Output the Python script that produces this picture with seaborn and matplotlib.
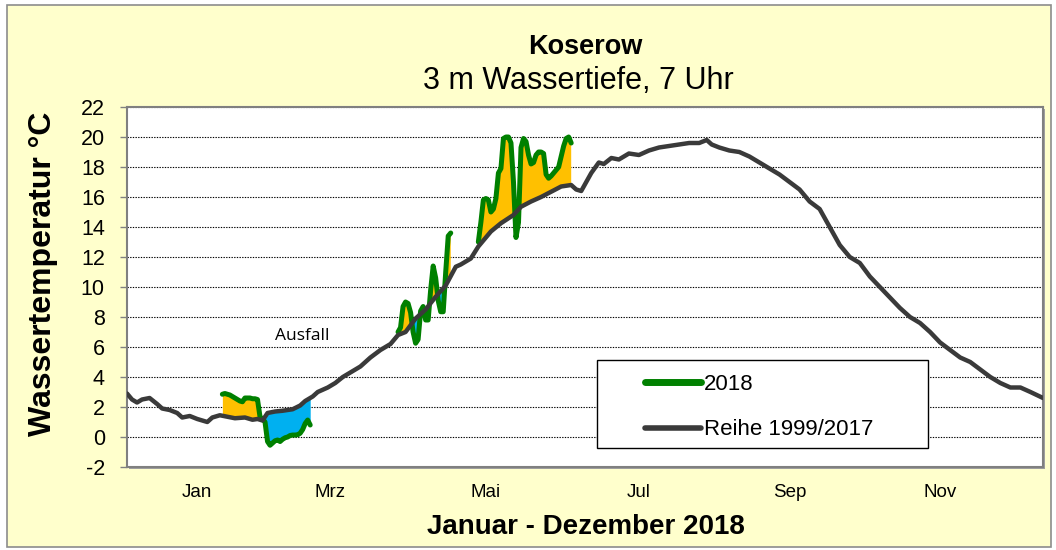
import numpy as np
import pandas as pd
import matplotlib
matplotlib.use("Agg")
import matplotlib.pyplot as plt
from matplotlib.patches import Rectangle
from matplotlib.lines import Line2D
import seaborn as sns

# ---------------- data ----------------
mean_days = [0, 2, 4, 6, 9, 12, 14, 17, 20, 22,
             25, 28, 30, 32, 34, 37, 40, 43, 47, 50,
             52, 54, 56, 59, 62, 66, 69, 71, 74, 76,
             80, 83, 86, 89, 93, 97, 101, 105, 108, 111,
             115, 119, 123, 127, 131, 133, 137, 140, 145, 149,
             154, 157, 161, 165, 169, 173, 177, 179, 181, 185,
             188, 190, 193, 196, 200, 204, 208, 212, 216, 220,
             224, 228, 231, 233, 236, 240, 244, 248, 252, 256,
             260, 264, 268, 272, 276, 280, 284, 288, 292, 296,
             300, 304, 308, 312, 316, 320, 324, 328, 332, 336,
             340, 344, 348, 352, 356, 360, 365]
mean_vals = [2.9, 2.5, 2.3, 2.5, 2.6, 2.2, 1.9, 1.8, 1.6, 1.3,
             1.4, 1.2, 1.1, 1.0, 1.3, 1.45, 1.35, 1.25, 1.3, 1.15,
             1.2, 1.1, 1.6, 1.7, 1.75, 1.85, 2.1, 2.4, 2.7, 3.0,
             3.3, 3.6, 4.0, 4.3, 4.7, 5.3, 5.8, 6.2, 6.8, 7.0,
             7.9, 8.5, 9.35, 10.1, 11.35, 11.5, 11.9, 12.7, 13.7, 14.25,
             14.8, 15.35, 15.7, 16.0, 16.35, 16.7, 16.8, 16.5, 16.4, 17.6,
             18.3, 18.2, 18.6, 18.5, 18.9, 18.8, 19.1, 19.3, 19.4, 19.5,
             19.6, 19.6, 19.8, 19.5, 19.3, 19.1, 19.0, 18.7, 18.3, 17.9,
             17.5, 17.0, 16.5, 15.7, 15.2, 14.0, 12.8, 12.0, 11.6, 10.7,
             10.0, 9.3, 8.6, 8.0, 7.6, 7.0, 6.3, 5.8, 5.3, 5.0,
             4.5, 4.0, 3.6, 3.3, 3.3, 3.0, 2.6]

seg1_days = list(range(38, 74))
seg1_vals = [2.85, 2.9, 2.85, 2.8, 2.7, 2.6, 2.5, 2.4, 2.35, 2.6,
             2.6, 2.6, 2.55, 2.55, 2.5, 1.35, 1.2, 1.0, -0.3, -0.55,
             -0.4, -0.25, -0.2, -0.3, -0.15, -0.05, 0.0, 0.1, 0.13, 0.13,
             0.15, 0.25, 0.5, 0.9, 1.13, 0.8]
seg2_days = list(range(108, 130))
seg2_vals = [7.0, 7.3, 8.7, 9.0, 8.9, 8.3, 7.0, 6.25, 6.5, 8.4,
             8.7, 7.8, 7.8, 9.8, 11.4, 10.6, 9.1, 8.35, 8.35, 11.0,
             13.4, 13.6]
seg3_days = list(range(140, 178))
seg3_vals = [13.0, 14.3, 15.8, 15.9, 15.8, 15.0, 15.2, 15.9, 17.6, 17.9,
             19.9, 20.0, 20.0, 19.6, 17.0, 13.3, 14.3, 19.3, 19.9, 19.7,
             18.8, 18.2, 18.3, 18.8, 19.0, 19.0, 18.9, 17.5, 17.25, 17.4,
             17.6, 17.8, 18.0, 18.7, 19.4, 19.9, 20.0, 19.6]

month_labels = ["Jan", "Mrz", "Mai", "Jul", "Sep", "Nov"]
month_pos = [28, 81, 143, 204, 264, 324]
y_ticks = list(range(-2, 23, 2))

title = "Koserow"
subtitle = "3 m Wassertiefe, 7 Uhr"
xlabel = "Januar - Dezember 2018"
ylabel = "Wassertemperatur °C"
legend_labels = ["2018", "Reihe 1999/2017"]

# ---------------- style ----------------
sns.set_theme(style="white")
plt.rcParams["font.family"] = ["Liberation Sans", "DejaVu Sans"]
plt.rcParams["text.color"] = "black"
plt.rcParams["xtick.color"] = "black"
plt.rcParams["ytick.color"] = "black"
plt.rcParams["axes.labelcolor"] = "black"

C_GREEN = "#008000"
C_MEAN = "#3A3A3A"
C_ORANGE = "#FFC000"
C_BLUE = "#00B0F0"

W, H = 1056, 550
fig = plt.figure(figsize=(W / 100, H / 100), dpi=100, facecolor="white")
fig.patches.append(Rectangle((7 / W, 3 / H), (1051 - 7) / W, (547 - 5) / H,
                             transform=fig.transFigure, facecolor="#FFFFCC",
                             edgecolor="#8C8C8C", lw=1.2, zorder=-10))
# soft shadow of the plot frame (right / bottom)
fig.patches.append(Rectangle((129 / W, 1 - 469 / H), (1043 - 127) / W,
                             (467 - 107) / H, transform=fig.transFigure,
                             facecolor="#A0A0A0", edgecolor="none",
                             zorder=-5))

ax = fig.add_axes([127 / W, 1 - 467 / H, (1043 - 127) / W, (467 - 107) / H])
ax.set_facecolor("white")
ax.set_zorder(1)

df_mean = pd.DataFrame({"day": mean_days, "temp": mean_vals})
df18 = pd.concat([
    pd.DataFrame({"day": seg1_days, "temp": seg1_vals, "seg": 1}),
    pd.DataFrame({"day": seg2_days, "temp": seg2_vals, "seg": 2}),
    pd.DataFrame({"day": seg3_days, "temp": seg3_vals, "seg": 3}),
], ignore_index=True)

# fills between 2018 and the long-term mean
for seg, g in df18.groupby("seg"):
    d = g["day"].to_numpy(float)
    v = g["temp"].to_numpy(float)
    base = np.interp(d, df_mean["day"], df_mean["temp"])
    ax.fill_between(d, base, v, where=v >= base, interpolate=True,
                    color=C_ORANGE, lw=0, zorder=2)
    ax.fill_between(d, base, v, where=v < base, interpolate=True,
                    color=C_BLUE, lw=0, zorder=2)

sns.lineplot(data=df18, x="day", y="temp", units="seg", estimator=None,
             color=C_GREEN, lw=3.6, ax=ax, zorder=3,
             solid_capstyle="round", solid_joinstyle="round")
sns.lineplot(data=df_mean, x="day", y="temp", color=C_MEAN, lw=3.2,
             ax=ax, zorder=4, solid_joinstyle="round")

ax.set_xlim(0, 365)
ax.set_ylim(-2, 22)
ax.set_yticks(y_ticks)
ax.set_yticklabels([str(t) for t in y_ticks], fontsize=15.5)
ax.set_xticks(month_pos)
ax.set_xticklabels(month_labels, fontsize=13.5)
ax.tick_params(axis="x", length=0, pad=12)
ax.tick_params(axis="y", length=5, width=1, color="#808080", pad=11,
               direction="out", left=True)
ax.yaxis.grid(True, linestyle=(0, (1.2, 1.2)), color="black", lw=0.8)
ax.set_axisbelow(True)
for s in ax.spines.values():
    s.set_color("#808080")
    s.set_linewidth(1.5)
ax.set_xlabel("")
ax.set_ylabel("")

ax.text(70, 6.7, "Ausfall", ha="center", va="center", fontsize=12.5,
        family=["Open Sans", "DejaVu Sans"], zorder=5)

fig.text(585 / W, 1 - 47 / H, title, ha="center", va="center",
         fontsize=19.5, fontweight="bold")
fig.text(578 / W, 1 - 81 / H, subtitle, ha="center", va="center",
         fontsize=22)
fig.text(586 / W, 1 - 527 / H, xlabel, ha="center", va="center",
         fontsize=20, fontweight="bold")
fig.text(43 / W, 1 - 274 / H, ylabel, ha="center", va="center",
         rotation=90, fontsize=23, fontweight="bold")

# legend
fig.patches.append(Rectangle((597 / W, 1 - 448 / H), (928 - 597) / W,
                             (448 - 360) / H, transform=fig.transFigure,
                             facecolor="white", edgecolor="black", lw=1,
                             zorder=5))
handles = [Line2D([], [], color=C_GREEN, lw=5, solid_capstyle="round"),
           Line2D([], [], color=C_MEAN, lw=4, solid_capstyle="round")]
leg = fig.legend(handles, legend_labels, loc="upper left",
                 bbox_to_anchor=(645 / W, 1 - 374 / H),
                 bbox_transform=fig.transFigure, frameon=False,
                 fontsize=16, handlelength=2.5, handletextpad=0.15,
                 labelspacing=1.1, borderpad=0, borderaxespad=0)
leg.set_zorder(6)

fig.savefig("out.png", dpi=100, facecolor=fig.get_facecolor())
